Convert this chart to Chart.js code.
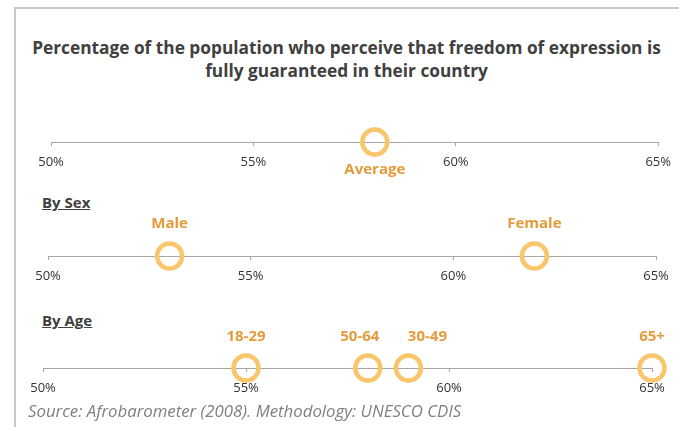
<!DOCTYPE html>
<html>
<head>
<meta charset="utf-8">
<script src="https://cdn.jsdelivr.net/npm/chart.js@4.4.1/dist/chart.umd.min.js"></script>
<style>
    body { margin: 0; background: #fff; }
    #wrap { position: relative; width: 679px; height: 427px; overflow: hidden; font-family: "Open Sans", sans-serif; }
    #frame { position: absolute; left: 14px; top: 7px; width: 700px; height: 440px; border-left: 2px solid #c8c8c8; border-top: 2px solid #c8c8c8; }
    #title { position: absolute; left: 14px; width: 665px; top: 36px; text-align: center; font-weight: bold; font-size: 17.3px; line-height: 23px; color: #404040; }
    .head { position: absolute; left: 42px; font-weight: bold; font-size: 15px; color: #404040; text-decoration: underline; }
    #source { position: absolute; left: 28px; top: 399px; font-style: italic; font-size: 16.8px; color: #7f7f7f; }
    canvas { position: absolute; left: 0; }
</style>
</head>
<body>
<div id="wrap">
    <div id="frame"></div>
    <div id="title">Percentage of the population who perceive that freedom of expression is<br>fully guaranteed in their country</div>
    <div class="head" style="top:192px">By Sex</div>
    <div class="head" style="top:310px">By Age</div>
    <canvas id="chartAverage" style="top:92px" width="679" height="90"></canvas>
    <canvas id="chartSex" style="top:206px" width="679" height="90"></canvas>
    <canvas id="chartAge" style="top:318px" width="679" height="90"></canvas>
    <div id="source">Source: Afrobarometer (2008). Methodology: UNESCO CDIS</div>
</div>
<script>
// values (percent)
const axisMin = 50;
const axisMax = 65;
const axisStep = 5;

const averageLabels = ['Average'];
const averageValues = [58];

const sexLabels = ['Male', 'Female'];
const sexValues = [53, 62];

const ageLabels = ['18-29', '30-49', '50-64', '65+'];
const ageValues = [55, 59, 58, 65];

const circleColor = '#f9c66b';
const labelColor = '#e49b3b';

// draws the group name next to each circle
const pointNames = {
    id: 'pointNames',
    afterDatasetsDraw(chart, args, opts) {
        const ctx = chart.ctx;
        const meta = chart.getDatasetMeta(0);
        ctx.save();
        ctx.font = 'bold 15px "Open Sans"';
        ctx.fillStyle = labelColor;
        ctx.textAlign = 'center';
        ctx.textBaseline = 'middle';
        meta.data.forEach(function(pt, i) {
            const dx = opts.dx ? opts.dx[i] : 0;
            ctx.fillText(opts.names[i], pt.x + dx, pt.y + opts.dy);
        });
        ctx.restore();
    }
};

function makeChart(id, names, values, left, right, dy, dx) {
    const ctx = document.getElementById(id).getContext('2d');
    return new Chart(ctx, {
        type: 'scatter',
        data: {
            datasets: [{
                data: values.map(v => ({x: v, y: 0})),
                pointRadius: 12.5,
                pointBorderWidth: 4.5,
                borderColor: circleColor,
                backgroundColor: 'rgba(0,0,0,0)',
                clip: false
            }]
        },
        options: {
            responsive: false,
            animation: false,
            events: [],
            layout: { padding: { left: left, right: 679 - right, top: 10, bottom: 10 } },
            scales: {
                x: {
                    type: 'linear',
                    min: axisMin,
                    max: axisMax,
                    afterFit: function(scale) { scale.height = 30; },
                    border: { display: true, color: '#a6a6a6', width: 1 },
                    grid: { drawOnChartArea: false, drawTicks: true, tickLength: 4, color: '#a6a6a6' },
                    ticks: {
                        stepSize: axisStep,
                        padding: 8,
                        color: '#333',
                        font: { family: 'Open Sans', size: 13 },
                        callback: function(value) { return value + '%'; }
                    }
                },
                y: { display: false, min: 0, max: 1 }
            },
            plugins: {
                legend: { display: false },
                tooltip: { enabled: false },
                pointNames: { names: names, dy: dy, dx: dx }
            }
        },
        plugins: [pointNames]
    });
}

makeChart('chartAverage', averageLabels, averageValues, 51, 659, 28, null);
makeChart('chartSex', sexLabels, sexValues, 48, 656, -32, null);
makeChart('chartAge', ageLabels, ageValues, 43, 652, -31, [0, 19, -8, 0]);
</script>
</body>
</html>
